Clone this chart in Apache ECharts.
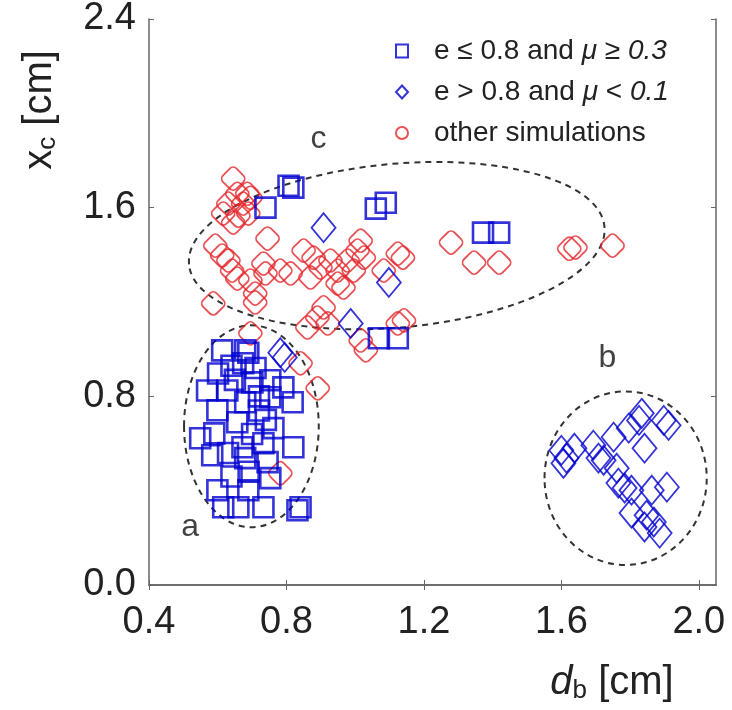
<!DOCTYPE html>
<html>
<head>
<meta charset="utf-8">
<script src="https://cdn.jsdelivr.net/npm/echarts@6/dist/echarts.min.js"></script>
<style>
  html, body { margin: 0; background: #fff; }
  #chart { width: 732px; height: 710px; }
</style>
</head>
<body>
<div id="chart"></div>
<script>
// series names (legend order)
const seriesNames = ['sq', 'dm', 'other simulations']

// e <= 0.8 and mu >= 0.3  (squares)
const squarePts = [
  [0.613, 0.995], [0.680, 0.995], [0.689, 0.985], [0.674, 0.940], [0.601, 0.897],
  [0.701, 0.859], [0.753, 0.868], [0.569, 0.825], [0.628, 0.825], [0.753, 0.796],
  [0.791, 0.838], [0.818, 0.775], [0.680, 0.775], [0.599, 0.741], [0.657, 0.690],
  [0.762, 0.665], [0.549, 0.622], [0.590, 0.643], [0.733, 0.601], [0.820, 0.584],
  [0.672, 0.584], [0.584, 0.550], [0.680, 0.538], [0.745, 0.521], [0.753, 0.453],
  [0.599, 0.402], [0.689, 0.402], [0.616, 0.330], [0.660, 0.330], [0.733, 0.330],
  [0.832, 0.317], [0.841, 0.330], [0.640, 0.930], [0.710, 0.920], [0.650, 0.870],
  [0.720, 0.740], [0.700, 0.640], [0.690, 0.480], [0.640, 0.460], [0.720, 0.800],
  [0.740, 0.700], [0.630, 0.560],
  [0.806, 1.693], [0.820, 1.685], [0.739, 1.600], [1.060, 1.596], [1.089, 1.621],
  [1.372, 1.494], [1.419, 1.494], [1.069, 1.046], [1.124, 1.046]
]

// e > 0.8 and mu < 0.1  (diamonds)
const diamondPts = [
  [0.908, 1.515], [0.987, 1.109], [1.098, 1.283], [0.782, 0.985], [0.795, 0.965],
  [1.600, 0.571], [1.615, 0.538], [1.606, 0.516], [1.638, 0.580], [1.693, 0.593],
  [1.708, 0.538], [1.723, 0.529], [1.752, 0.627], [1.761, 0.495], [1.796, 0.665],
  [1.834, 0.728], [1.826, 0.698], [1.842, 0.580], [1.898, 0.698], [1.912, 0.677],
  [1.766, 0.432], [1.784, 0.411], [1.804, 0.402], [1.863, 0.402], [1.907, 0.415],
  [1.804, 0.305], [1.848, 0.296], [1.869, 0.267], [1.886, 0.220], [1.842, 0.246]
]

// other simulations
const otherPts = [
  [0.645, 1.723], [0.657, 1.659], [0.686, 1.659], [0.631, 1.617], [0.674, 1.617],
  [0.695, 1.642], [0.616, 1.575], [0.660, 1.566], [0.689, 1.575], [0.645, 1.537],
  [0.745, 1.469], [0.593, 1.439], [0.631, 1.376], [0.613, 1.397], [0.642, 1.333],
  [0.657, 1.299], [0.695, 1.291], [0.733, 1.363], [0.739, 1.321], [0.709, 1.236],
  [0.709, 1.198], [0.782, 1.333], [0.812, 1.321], [0.850, 1.418], [0.879, 1.388],
  [0.899, 1.346], [0.870, 1.304], [0.928, 1.376], [0.949, 1.333], [0.978, 1.376],
  [1.007, 1.418], [0.996, 1.333], [0.949, 1.278], [0.966, 1.261], [0.908, 1.177],
  [0.890, 1.134], [0.861, 1.092], [0.920, 1.109], [0.587, 1.194], [0.695, 1.067],
  [1.016, 1.460], [1.025, 1.388], [1.124, 1.405], [1.139, 1.388], [1.083, 1.333],
  [1.279, 1.452], [1.346, 1.367], [1.419, 1.367], [1.142, 1.122], [1.124, 1.109],
  [1.623, 1.426], [1.641, 1.431], [1.749, 1.439], [1.016, 1.037], [1.031, 0.995],
  [0.841, 0.940], [0.891, 0.834], [0.782, 0.474]
]

// dashed groupings: cx, cy, rx, ry (data units), rotation (rad)
const ellipses = [
  [1.121, 1.439, 0.607, 0.347, 0.09],
  [0.698, 0.673, 0.196, 0.428, 0],
  [1.787, 0.453, 0.236, 0.368, 0]
]
const regionNames = ['a', 'b', 'c']
const regionPos = [[0.52, 0.245], [1.734, 0.961], [0.893, 1.892]]

const xTicks = [0.4, 0.8, 1.2, 1.6, 2.0]

const blue = '#0000d0'
const red = '#e3262b'
const font = 'Liberation Sans'

const chart = echarts.init(document.getElementById('chart'))

const hiddenAxis = {
  axisLabel: { show: false },
  axisTick: { show: true, inside: true, length: 5, lineStyle: { color: '#666' } },
  axisLine: { lineStyle: { color: '#666', width: 1.5 } },
  splitLine: { show: false }
}

const option = {
  animation: false,
  grid: { left: 149, right: 16, top: 19, bottom: 125 },
  xAxis: [
    {
      type: 'value', min: 0.4, max: 2.05, interval: 0.4,
      axisLine: { lineStyle: { color: '#666', width: 1.5 } },
      axisTick: { inside: true, length: 5, customValues: xTicks, lineStyle: { color: '#666' } },
      axisLabel: {
        customValues: xTicks, margin: 19,
        formatter: v => v.toFixed(1),
        fontFamily: font, fontSize: 38, color: '#222'
      },
      splitLine: { show: false }
    },
    Object.assign({ type: 'value', min: 0.4, max: 2.05, position: 'top' }, hiddenAxis,
      { axisTick: { inside: true, length: 5, customValues: xTicks, lineStyle: { color: '#666' } } })
  ],
  yAxis: [
    {
      type: 'value', min: 0, max: 2.4, interval: 0.8,
      axisLine: { lineStyle: { color: '#666', width: 1.5 } },
      axisTick: { inside: true, length: 5, lineStyle: { color: '#666' } },
      axisLabel: {
        margin: 13, formatter: v => v.toFixed(1),
        fontFamily: font, fontSize: 38, color: '#222'
      },
      splitLine: { show: false }
    },
    Object.assign({ type: 'value', min: 0, max: 2.4, interval: 0.8, position: 'right' }, hiddenAxis)
  ],
  legend: {
    orient: 'vertical', left: 390, top: 31,
    itemWidth: 12, itemHeight: 13, itemGap: 11,
    data: [
      { name: seriesNames[0], icon: 'rect' },
      { name: seriesNames[1], icon: 'diamond' },
      { name: seriesNames[2], icon: 'circle' }
    ],
    formatter: name => {
      if (name === 'sq') return 'e ≤ 0.8 and {i|μ} ≥ {i|0.3}'
      if (name === 'dm') return 'e > 0.8 and {i|μ} < {i|0.1}'
      return name
    },
    textStyle: {
      fontFamily: font, fontSize: 28, color: '#222', lineHeight: 30,
      padding: [0, 0, 0, 21],
      rich: { i: { fontFamily: font, fontSize: 28, fontStyle: 'italic', color: '#222' } }
    }
  },
  graphic: [
    {
      type: 'text', x: 40, y: 110, rotation: Math.PI / 2,
      style: {
        text: '{m|x}{s|c}{m| [cm]}', align: 'center', verticalAlign: 'middle',
        rich: {
          m: { fontFamily: font, fontSize: 40, fill: '#222' },
          s: { fontFamily: font, fontSize: 26, fill: '#222', padding: [16, 0, 0, 0] }
        }
      }
    },
    {
      type: 'text', x: 612, y: 683,
      style: {
        text: '{d|d}{s|b}{m| [cm]}', align: 'center', verticalAlign: 'middle',
        rich: {
          d: { fontFamily: font, fontSize: 40, fontStyle: 'italic', fill: '#222' },
          m: { fontFamily: font, fontSize: 40, fill: '#222' },
          s: { fontFamily: font, fontSize: 26, fill: '#222', padding: [16, 0, 0, 0] }
        }
      }
    }
  ],
  series: [
    {
      type: 'custom', name: 'groups', silent: true, z: 1,
      renderItem: (params, api) => {
        const c = api.coord([api.value(0), api.value(1)])
        const s = api.size([api.value(2), api.value(3)])
        return {
          type: 'ellipse', x: c[0], y: c[1], rotation: api.value(4),
          shape: { cx: 0, cy: 0, rx: s[0], ry: s[1] },
          style: { fill: 'none', stroke: '#333', lineWidth: 2, lineDash: [6, 5] }
        }
      },
      data: ellipses
    },
    {
      type: 'scatter', name: 'labels', silent: true, symbolSize: 0,
      label: {
        show: true, position: 'inside', formatter: '{b}',
        fontFamily: font, fontSize: 32, color: '#111'
      },
      data: regionNames.map((n, i) => ({ name: n, value: regionPos[i] }))
    },
    {
      type: 'scatter', name: seriesNames[2], z: 2,
      symbol: 'roundRect', symbolRotate: 45, symbolSize: 19,
      itemStyle: { color: 'rgba(0,0,0,0)', borderColor: red, borderWidth: 1.8 },
      data: otherPts
    },
    {
      type: 'scatter', name: seriesNames[0], z: 3,
      symbol: 'rect', symbolSize: 20,
      itemStyle: { color: 'rgba(0,0,0,0)', borderColor: blue, borderWidth: 2.6 },
      data: squarePts
    },
    {
      type: 'scatter', name: seriesNames[1], z: 3,
      symbol: 'diamond', symbolSize: [24, 29],
      itemStyle: { color: 'rgba(0,0,0,0)', borderColor: blue, borderWidth: 1.8 },
      data: diamondPts
    }
  ]
}

chart.setOption(option)
</script>
</body>
</html>
